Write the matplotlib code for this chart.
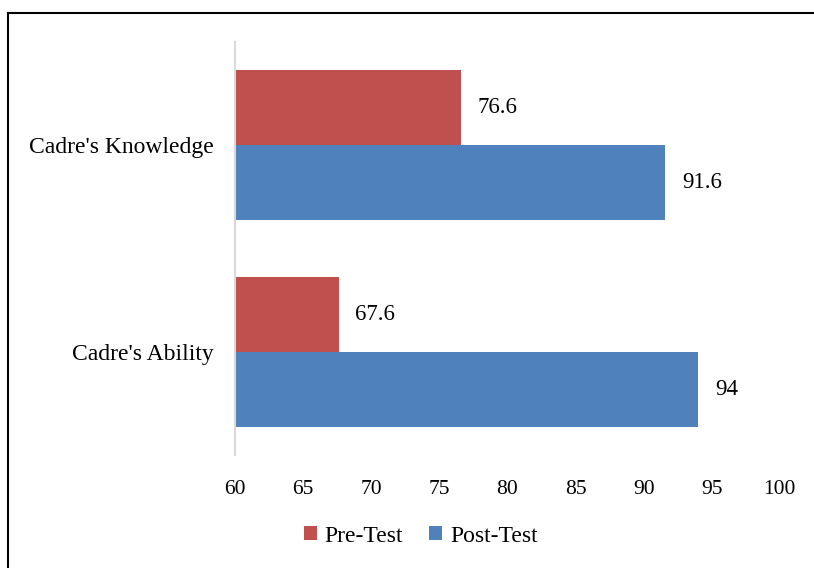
import matplotlib.pyplot as plt
from matplotlib.lines import Line2D

categories = ["Cadre's Ability", "Cadre's Knowledge"]
pre_test = [67.6, 76.6]
post_test = [94, 91.6]
xticks = [60, 65, 70, 75, 80, 85, 90, 95, 100]

plt.rcParams['font.family'] = ['Liberation Serif', 'DejaVu Serif']

fig = plt.figure(figsize=(8.14, 5.68), dpi=100)
ax = fig.add_axes([0.2887, 0.199, 0.958 - 0.2887, 0.926 - 0.199])

h = 0.364
pos = range(len(categories))
rojo = "#C0504D"
azul = "#4F81BD"

# bars start at 60, so draw them from the left edge
pre_bars = ax.barh([p + h / 2 for p in pos], [v - 60 for v in pre_test], left=60,
                   height=h, color=rojo, label="Pre-Test")
post_bars = ax.barh([p - h / 2 for p in pos], [v - 60 for v in post_test], left=60,
                    height=h, color=azul, label="Post-Test")

for p, v in zip(pos, pre_test):
    ax.annotate(f"{v:g}", (v, p + h / 2), xytext=(12, 0), textcoords="offset points",
                va="center", ha="left", fontsize=16.5)
for p, v in zip(pos, post_test):
    ax.annotate(f"{v:g}", (v, p - h / 2), xytext=(12, 0), textcoords="offset points",
                va="center", ha="left", fontsize=16.5)

ax.set_xlim(60, 100)
ax.set_ylim(-0.5, 1.5)
ax.set_xticks(xticks)
ax.set_yticks(list(pos))
ax.set_yticklabels(categories)
ax.tick_params(axis="x", length=0, labelsize=15.5, pad=18)
ax.tick_params(axis="y", length=0, labelsize=17, pad=15)

for s in ["top", "right", "bottom"]:
    ax.spines[s].set_visible(False)
ax.spines["left"].set_color("#D9D9D9")
ax.spines["left"].set_linewidth(1.5)

ax.legend(handles=[pre_bars, post_bars], loc="center", bbox_to_anchor=(0.517, 0.056),
          bbox_transform=fig.transFigure, ncol=2, frameon=False, fontsize=17,
          handlelength=0.55, handleheight=0.55, handletextpad=0.35, columnspacing=1.1)

# frame around the chart (top and left edges)
fig.add_artist(Line2D([8 / 814, 8 / 814], [0, 1 - 13 / 568], color="black", lw=1.5))
fig.add_artist(Line2D([8 / 814, 1], [1 - 13 / 568, 1 - 13 / 568], color="black", lw=1.5))

fig.savefig("out.png", dpi=100)
